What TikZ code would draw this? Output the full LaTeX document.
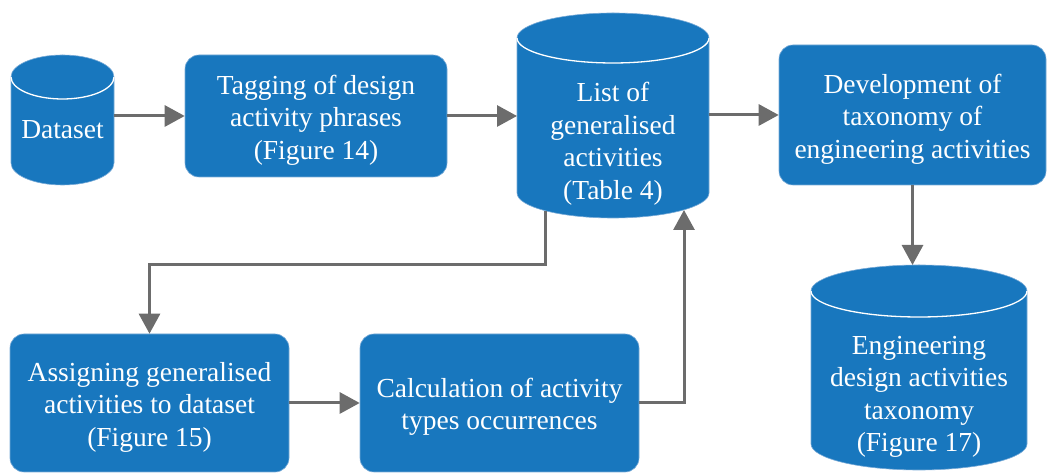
\documentclass[tikz,border=0pt]{standalone}
\usepackage{fontspec}
\setmainfont{Liberation Serif}
\usetikzlibrary{arrows.meta,calc}
\definecolor{boxblue}{RGB}{24,119,190}
\definecolor{boxedge}{RGB}{120,170,215}
\definecolor{arrgray}{RGB}{108,108,108}
\newcommand{\mycyl}[5]{% cx, ybot, ytop, rx, ry
  \filldraw[fill=boxblue,draw=boxedge,line width=0.6pt] ({#1-#4},{#3-#5}) -- ({#1-#4},{#2+#5})
    arc[start angle=180,end angle=360,x radius=#4,y radius=#5] -- ({#1+#4},{#3-#5})
    arc[start angle=0,end angle=180,x radius=#4,y radius=#5] -- cycle;
  \draw[white,line width=1.3pt] ({#1-#4},{#3-#5})
    arc[start angle=180,end angle=360,x radius=#4,y radius=#5];}
\newcommand{\dnstrut}{\rule{0pt}{27pt}}
\begin{document}
\begin{tikzpicture}[x=1pt,y=1pt,
  txt/.style={text=white, align=center, font=\fontsize{27.5}{32.5}\selectfont, inner sep=0pt},
  proc/.style={txt, draw=boxedge, line width=0.6pt, fill=boxblue, rounded corners=14pt},
  body/.style={inner sep=0pt, outer sep=0pt},
  flow/.style={draw=arrgray, line width=3pt, -{Triangle[length=20pt,width=21pt]}}]
\useasboundingbox (0,0) rectangle (1051,473);
\clip (0,0) rectangle (1051,473);

% cylinders
\mycyl{62.5}{288}{418}{51.5}{22}
\node[body, minimum width=103pt, minimum height=130pt] (data) at (62.5,353) {};
\node[txt] (datatext) at (62.5,343) {Dataset};

\mycyl{613}{255}{460}{96}{25}
\node[body, minimum width=192pt, minimum height=205pt] (list) at (613,357.5) {};
\node[txt] (listtext) at (613,329) {List of\\generalised\\activities\\(Table 4)};

\mycyl{919}{3}{208}{108}{26}
\node[body, minimum width=216pt, minimum height=205pt] (eng) at (919,105.5) {};
\node[txt] (engtext) at (919,76) {Engineering\\design activities\\taxonomy\\(Figure 17)};

% process boxes
\node[proc, minimum width=262pt, minimum height=122pt] (tag) at (316,357)
  {\dnstrut Tagging of design\\activity phrases\\(Figure 14)};
\node[proc, minimum width=267pt, minimum height=140pt] (dev) at (912.5,358)
  {\dnstrut Development of\\taxonomy of\\engineering activities};
\node[proc, minimum width=279pt, minimum height=138pt] (assign) at (149.5,70)
  {\dnstrut Assigning generalised\\activities to dataset\\(Figure 15)};
\node[proc, minimum width=279pt, minimum height=138pt] (calc) at (499.5,70)
  {\dnstrut Calculation of activity\\types occurrences};

\coordinate (lb1) at (545,262);
\coordinate (lb2) at (684,263);

% connectors
\draw[flow] (tag.west -| data.east) -- (tag.west);
\draw[flow] (tag.east) -- (tag.east -| list.west);
\draw[flow] (dev.west -| list.east) -- (dev.west);
\draw[flow] (dev.south) -- (dev.south |- eng.north);
\draw[flow] (lb1) -- ++(0,-54) -| (assign.north);
\draw[flow] (assign.east) -- (calc.west);
\draw[flow] (calc.east) -| (lb2);
\end{tikzpicture}
\end{document}
